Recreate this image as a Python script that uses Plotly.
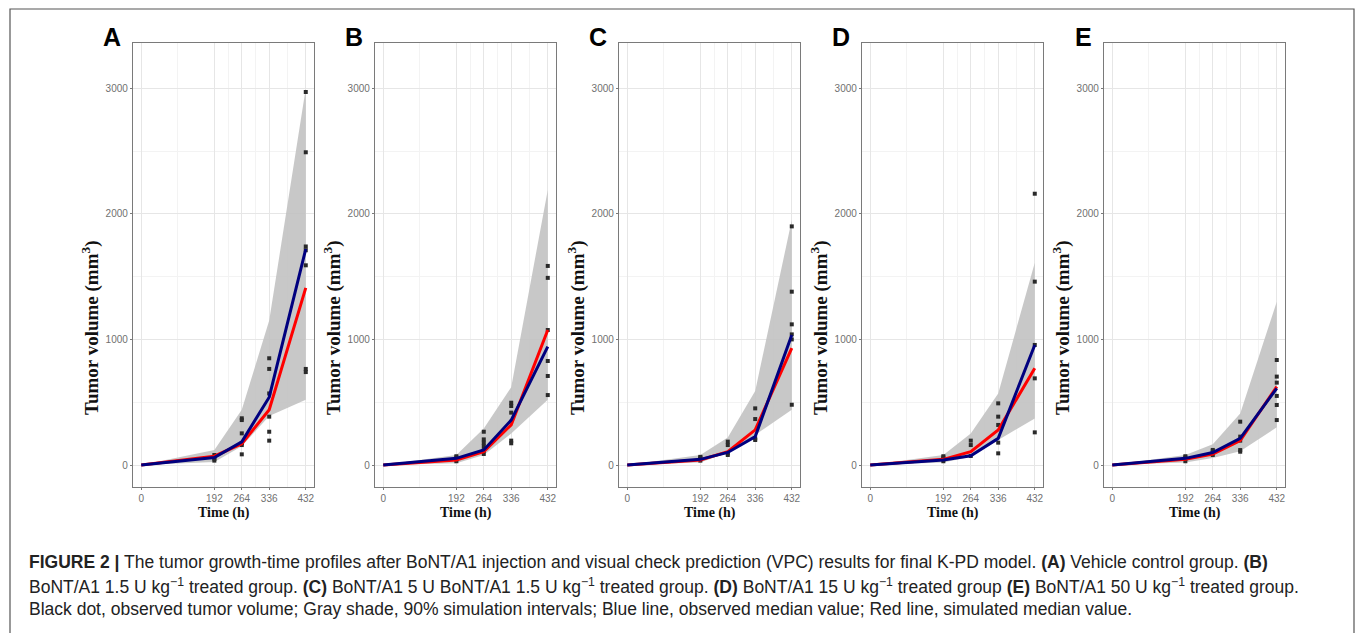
import plotly.graph_objects as go

W, H = 1357, 633

time_h = [0, 192, 264, 336, 432]
panel_labels = ["A", "B", "C", "D", "E"]

# 90% simulation interval (upper / lower)
band_upper_A = [0, 120, 440, 1150, 3000]
band_lower_A = [0, 25, 150, 390, 520]
band_upper_B = [0, 80, 290, 620, 2190]
band_lower_B = [0, 15, 80, 250, 520]
band_upper_C = [0, 80, 220, 590, 1950]
band_lower_C = [0, 20, 100, 240, 440]
band_upper_D = [0, 80, 250, 570, 1610]
band_lower_D = [0, 20, 65, 200, 370]
band_upper_E = [0, 80, 165, 410, 1300]
band_lower_E = [0, 20, 55, 110, 300]

# observed median (blue) and simulated median (red)
obs_median_A = [0, 60, 185, 540, 1720]
sim_median_A = [0, 70, 170, 440, 1410]
obs_median_B = [0, 53, 120, 358, 942]
sim_median_B = [0, 40, 106, 320, 1075]
obs_median_C = [0, 45, 100, 226, 1035]
sim_median_C = [0, 40, 106, 280, 930]
obs_median_D = [0, 40, 74, 212, 956]
sim_median_D = [0, 45, 106, 279, 770]
obs_median_E = [0, 53, 100, 212, 611]
sim_median_E = [0, 45, 88, 194, 624]

# observed tumour volumes (black dots)
dots_t_A = [192, 192, 192, 192, 264, 264, 264, 264, 264, 264, 336, 336, 336, 336, 336, 336, 432, 432, 432, 432, 432, 432, 432]
dots_v_A = [35, 50, 65, 80, 372, 358, 252, 173, 159, 85, 850, 765, 570, 385, 265, 194, 2970, 2490, 1740, 1710, 1590, 765, 740]
dots_t_B = [192, 192, 192, 192, 264, 264, 264, 264, 264, 264, 336, 336, 336, 336, 336, 432, 432, 432, 432, 432, 432]
dots_v_B = [30, 45, 60, 70, 265, 204, 178, 151, 119, 88, 496, 470, 417, 194, 173, 1585, 1490, 1075, 828, 709, 557]
dots_t_C = [192, 192, 192, 192, 264, 264, 264, 264, 336, 336, 336, 336, 432, 432, 432, 432, 432, 432]
dots_v_C = [35, 50, 60, 65, 186, 159, 93, 80, 451, 366, 212, 199, 1900, 1380, 1120, 1040, 1000, 480]
dots_t_D = [192, 192, 192, 192, 264, 264, 264, 336, 336, 336, 336, 336, 432, 432, 432, 432, 432]
dots_v_D = [30, 45, 60, 70, 194, 159, 72, 491, 385, 319, 178, 93, 2160, 1460, 956, 690, 260]
dots_t_E = [192, 192, 192, 192, 264, 264, 264, 264, 336, 336, 336, 336, 336, 432, 432, 432, 432, 432, 432]
dots_v_E = [30, 50, 60, 70, 80, 95, 110, 120, 345, 226, 194, 119, 106, 836, 704, 656, 550, 478, 358]

y_ticks = [0, 1000, 2000, 3000]
y_minor = [500, 1500, 2500]
x_minor = [96, 228, 300, 384]

caption_lines = [
    "<b>FIGURE 2 |</b> The tumor growth-time profiles after BoNT/A1 injection and visual check prediction (VPC) results for final K-PD model. <b>(A)</b> Vehicle control group. <b>(B)</b>",
    "BoNT/A1 1.5 U kg<sup>\u22121</sup> treated group. <b>(C)</b> BoNT/A1 5 U BoNT/A1 1.5 U kg<sup>\u22121</sup> treated group. <b>(D)</b> BoNT/A1 15 U kg<sup>\u22121</sup> treated group <b>(E)</b> BoNT/A1 50 U kg<sup>\u22121</sup> treated group.",
    "Black dot, observed tumor volume; Gray shade, 90% simulation intervals; Blue line, observed median value; Red line, simulated median value.",
]

panels = [
    (band_upper_A, band_lower_A, obs_median_A, sim_median_A, dots_t_A, dots_v_A),
    (band_upper_B, band_lower_B, obs_median_B, sim_median_B, dots_t_B, dots_v_B),
    (band_upper_C, band_lower_C, obs_median_C, sim_median_C, dots_t_C, dots_v_C),
    (band_upper_D, band_lower_D, obs_median_D, sim_median_D, dots_t_D, dots_v_D),
    (band_upper_E, band_lower_E, obs_median_E, sim_median_E, dots_t_E, dots_v_E),
]

# layout geometry (pixels)
panel_left = [133, 375, 619, 862, 1104]
panel_w = 181
panel_top, panel_bottom = 43, 487

fig = go.Figure()
annotations = []
SERIF = "Liberation Serif, Times New Roman, serif"
SANS = "Liberation Sans, Arial, sans-serif"

for i, (up, lo, obs, sim, dt, dv) in enumerate(panels):
    n = "" if i == 0 else str(i + 1)
    xa, ya = "x" + n, "y" + n
    fig.add_trace(go.Scatter(x=time_h, y=lo, mode="lines", line=dict(width=0),
                             xaxis=xa, yaxis=ya, showlegend=False, hoverinfo="skip"))
    fig.add_trace(go.Scatter(x=time_h, y=up, mode="lines", line=dict(width=0),
                             fill="tonexty", fillcolor="rgba(190,190,190,0.85)",
                             xaxis=xa, yaxis=ya, showlegend=False))
    fig.add_trace(go.Scatter(x=dt, y=dv, mode="markers",
                             marker=dict(color="#2a2a2a", size=4, symbol="square"),
                             xaxis=xa, yaxis=ya, showlegend=False))
    fig.add_trace(go.Scatter(x=time_h, y=sim, mode="lines", line=dict(color="#ff0000", width=3),
                             xaxis=xa, yaxis=ya, showlegend=False))
    fig.add_trace(go.Scatter(x=time_h, y=obs, mode="lines", line=dict(color="#00007f", width=3),
                             xaxis=xa, yaxis=ya, showlegend=False))

    x0 = panel_left[i] / W
    x1 = (panel_left[i] + panel_w) / W
    common = dict(showline=True, mirror=True, linecolor="#7a7a7a", linewidth=1.3,
                  ticks="outside", ticklen=2, tickcolor="#7a7a7a",
                  gridcolor="#e6e6e6", gridwidth=1, zeroline=False,
                  tickfont=dict(family=SANS, size=10, color="#707070"))
    fig.layout["xaxis" + n] = dict(domain=[x0, x1], range=[-21.6, 453.6],
                                   tickmode="array", tickvals=time_h, ticktext=[str(t) for t in time_h],
                                   anchor=ya,
                                   minor=dict(tickmode="array", tickvals=x_minor, showgrid=True,
                                              gridcolor="#f3f3f3", ticks=""),
                                   **common)
    fig.layout["yaxis" + n] = dict(domain=[1 - panel_bottom / H, 1 - panel_top / H], range=[-175, 3360],
                                   tickmode="array", tickvals=y_ticks, ticktext=[str(t) for t in y_ticks],
                                   anchor=xa,
                                   minor=dict(tickmode="array", tickvals=y_minor, showgrid=True,
                                              gridcolor="#f3f3f3", ticks=""),
                                   **common)
    cx = (panel_left[i] + panel_w / 2) / W
    annotations.append(dict(text="<b>Time (h)</b>", x=cx, y=1 - 513 / H, xref="paper", yref="paper",
                            showarrow=False, font=dict(family=SERIF, size=14, color="#111"),
                            xanchor="center", yanchor="middle"))
    annotations.append(dict(text="<b>Tumor volume (mm<sup>3</sup>)</b>", x=(panel_left[i] - 42) / W,
                            y=1 - 328 / H, xref="paper", yref="paper", textangle=-90,
                            showarrow=False, font=dict(family=SERIF, size=19, color="#111"),
                            xanchor="center", yanchor="middle"))
    annotations.append(dict(text="<b>" + panel_labels[i] + "</b>", x=(panel_left[i] - 21) / W,
                            y=1 - 37 / H, xref="paper", yref="paper", showarrow=False,
                            font=dict(family=SANS, size=25, color="#000"),
                            xanchor="center", yanchor="middle"))

caption_y = [562, 586, 609]
for line, yy in zip(caption_lines, caption_y):
    annotations.append(dict(text=line, x=27 / W, y=1 - yy / H, xref="paper", yref="paper",
                            showarrow=False, xanchor="left", yanchor="middle", align="left",
                            font=dict(family=SANS, size=17.5, color="#222")))

fig.update_layout(
    width=W, height=H, margin=dict(l=0, r=0, t=0, b=0),
    paper_bgcolor="white", plot_bgcolor="white",
    annotations=annotations,
    shapes=[dict(type="rect", xref="paper", yref="paper", x0=10 / W, x1=1354 / W,
                 y0=-0.05, y1=1 - 9 / H, line=dict(color="#555", width=1.2))],
)

fig.write_html("out.html")
